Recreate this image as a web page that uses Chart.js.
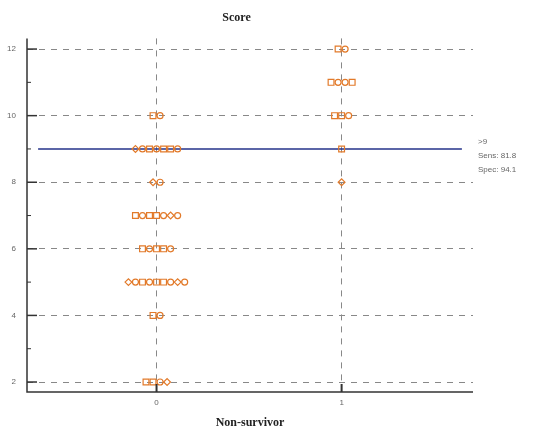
<!DOCTYPE html>
<html>
<head>
<meta charset="utf-8">
<script src="https://cdn.jsdelivr.net/npm/chart.js@4/dist/chart.umd.min.js"></script>
<style>
  html, body { margin: 0; padding: 0; background: #fff; }
  canvas { display: block; }
</style>
</head>
<body>
<canvas id="dotChart" width="541" height="433"></canvas>
<script>
// scores of each case, by group (0 = survivor, 1 = non-survivor)
const GROUPS = [0, 1];
const SCORES_0 = [10, 10,
  9, 9, 9, 9, 9, 9, 9,
  8, 8,
  7, 7, 7, 7, 7, 7, 7,
  6, 6, 6, 6, 6,
  5, 5, 5, 5, 5, 5, 5, 5, 5,
  4, 4,
  2, 2, 2, 2];
const SCORES_1 = [12, 12,
  11, 11, 11, 11,
  10, 10, 10,
  9,
  8];
const Y_TICKS = [2, 4, 6, 8, 10, 12];
const Y_MINOR = [3, 5, 7, 9, 11];
const CUTOFF = 9;
const CUTOFF_TEXT = ['>9', 'Sens: 81.8', 'Spec: 94.1'];

const ORANGE = '#e27a2a';
const MARKERS_0 = ['rect', 'circle', 'rectRot', 'circle', 'rect', 'circle', 'rect'];
const MARKERS_1 = ['rect', 'circle', 'rect', 'circle', 'circle', 'rect', 'rect', 'rect', 'circle', 'rect', 'rectRot'];
const MARKER_RADIUS = { rect: 4.1, circle: 3, rectRot: 3.4 };

// lay the cases of one group side by side around the group position
function dotPoints(group, scores) {
  const counts = {};
  scores.forEach(s => { counts[s] = (counts[s] || 0) + 1; });
  const seen = {};
  return scores.map(s => {
    const i = seen[s] = (seen[s] === undefined ? 0 : seen[s] + 1);
    return { x: group + (i - (counts[s] - 1) / 2) * 0.038, y: s };
  });
}

const points0 = dotPoints(GROUPS[0], SCORES_0);
const points1 = dotPoints(GROUPS[1], SCORES_1);

const axesPlugin = {
  id: 'axesPlugin',
  afterDatasetsDraw(chart) {
    const { ctx, chartArea: a, scales: { x, y } } = chart;
    ctx.save();
    ctx.strokeStyle = '#333';
    ctx.lineWidth = 1.5;
    ctx.beginPath();
    ctx.moveTo(a.left, a.top);
    ctx.lineTo(a.left, a.bottom);
    ctx.lineTo(a.right, a.bottom);
    ctx.stroke();
    Y_TICKS.forEach(v => {
      const py = y.getPixelForValue(v);
      ctx.beginPath(); ctx.moveTo(a.left, py); ctx.lineTo(a.left + 10, py); ctx.stroke();
    });
    ctx.lineWidth = 1;
    Y_MINOR.forEach(v => {
      const py = y.getPixelForValue(v);
      ctx.beginPath(); ctx.moveTo(a.left, py); ctx.lineTo(a.left + 4, py); ctx.stroke();
    });
    ctx.lineWidth = 2;
    GROUPS.forEach(g => {
      const px = x.getPixelForValue(g);
      ctx.beginPath(); ctx.moveTo(px, a.bottom); ctx.lineTo(px, a.bottom - 8); ctx.stroke();
    });
    // cutoff label
    ctx.fillStyle = '#666';
    ctx.font = '8px "Liberation Sans", Arial, sans-serif';
    ctx.textBaseline = 'middle';
    const cy = y.getPixelForValue(CUTOFF);
    CUTOFF_TEXT.forEach((t, i) => ctx.fillText(t, a.right + 5, cy - 7 + i * 14));
    ctx.restore();
  }
};

function markerDataset(points, markers) {
  const style = c => markers[c.dataIndex % markers.length];
  return {
    data: points,
    borderColor: ORANGE,
    backgroundColor: 'rgba(255,255,255,0)',
    pointStyle: style,
    pointRadius: c => MARKER_RADIUS[style(c)],
    pointBorderWidth: 1.2
  };
}

new Chart(document.getElementById('dotChart'), {
  type: 'scatter',
  data: {
    datasets: [
      markerDataset(points0, MARKERS_0),
      markerDataset(points1, MARKERS_1),
      {
        type: 'line',
        data: [{ x: -0.64, y: CUTOFF }, { x: 1.65, y: CUTOFF }],
        borderColor: '#24328a',
        borderWidth: 1.5,
        pointRadius: 0
      }
    ]
  },
  options: {
    responsive: false,
    animation: false,
    layout: { padding: { left: 0, right: 68, top: 0, bottom: 0 } },
    plugins: {
      legend: { display: false },
      tooltip: { enabled: false },
      title: {
        display: true,
        text: 'Score',
        color: '#222',
        font: { family: '"Liberation Serif", "DejaVu Serif", serif', size: 12, weight: 'bold' },
        padding: { top: 11, bottom: 13 }
      }
    },
    scales: {
      x: {
        type: 'linear',
        min: -0.7,
        max: 1.71,
        afterBuildTicks: s => { s.ticks = GROUPS.map(v => ({ value: v })); },
        afterFit: s => { s.height = 41; },
        grid: { color: '#888', lineWidth: 1, drawTicks: false },
        border: { display: false, dash: [6, 6] },
        ticks: {
          padding: 6,
          color: '#666',
          font: { family: '"Liberation Sans", Arial, sans-serif', size: 8 },
          callback: v => String(v)
        },
        title: {
          display: true,
          text: 'Non-survivor',
          color: '#222',
          font: { family: '"Liberation Serif", "DejaVu Serif", serif', size: 12, weight: 'bold' },
          padding: { top: 0, bottom: 3 }
        }
      },
      y: {
        min: 1.7,
        max: 12.32,
        afterBuildTicks: s => { s.ticks = Y_TICKS.map(v => ({ value: v })); },
        afterFit: s => { s.width = 27; },
        grid: { color: '#888', lineWidth: 1, drawTicks: false },
        border: { display: false, dash: [6, 6] },
        ticks: {
          padding: 11,
          color: '#666',
          font: { family: '"Liberation Sans", Arial, sans-serif', size: 8 }
        }
      }
    }
  },
  plugins: [axesPlugin]
});
</script>
</body>
</html>
